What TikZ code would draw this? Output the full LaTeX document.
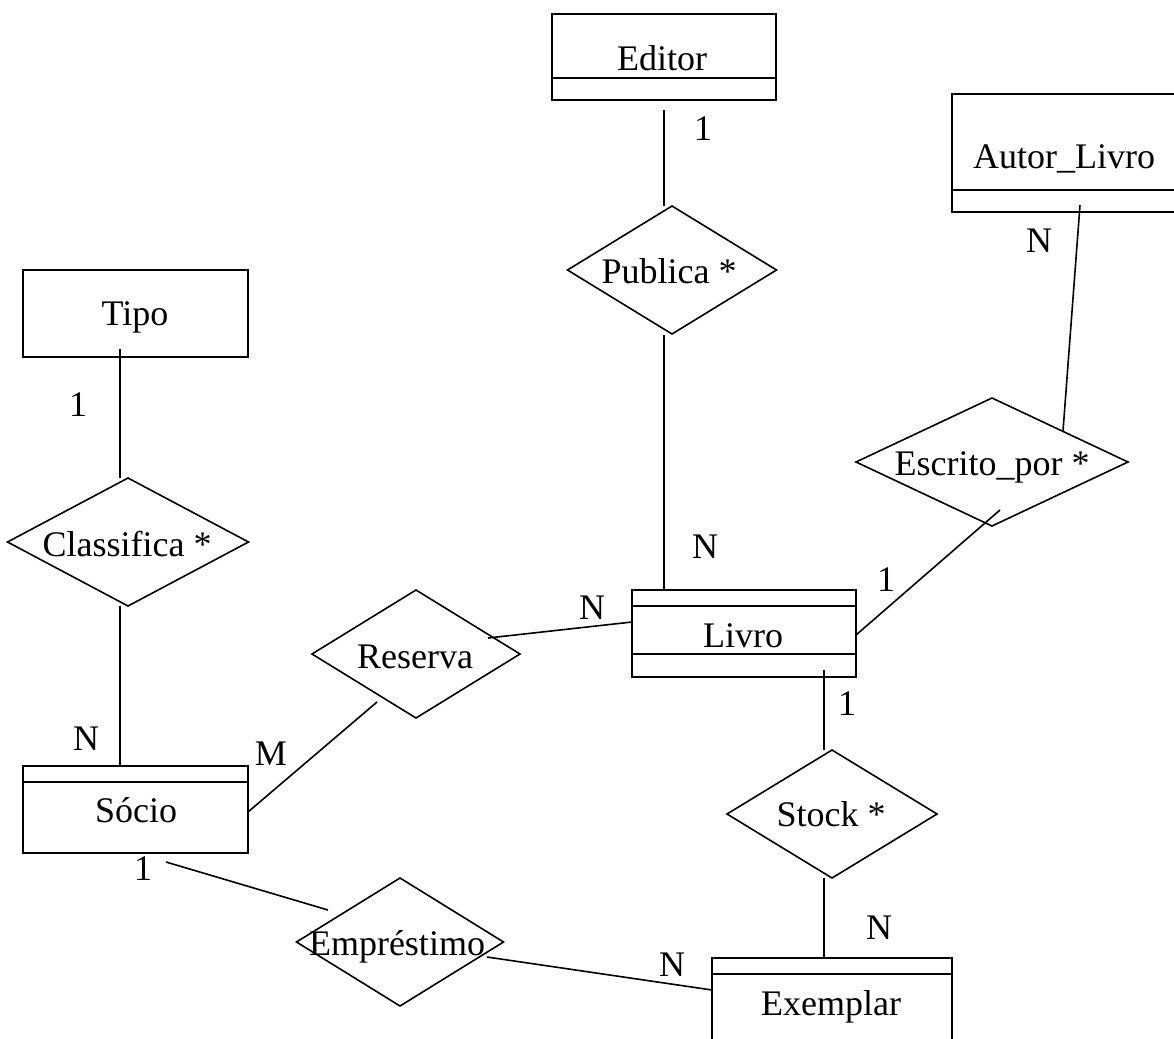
\documentclass[tikz,border=0pt]{standalone}
\usepackage{fontspec}
\setmainfont{Liberation Serif}
\usetikzlibrary{shapes.geometric}
\tikzset{
  entity/.style={draw, rectangle, line width=1.8pt, inner sep=0pt, outer sep=0pt},
  rel/.style={draw, diamond, line width=1.6pt, inner sep=0pt, outer sep=0pt},
  txt/.style={anchor=base, inner sep=0pt, font=\fontsize{36}{40}\selectfont},
  conn/.style={line width=1.6pt},
  sep/.style={line width=1.6pt}
}
\begin{document}
\begin{tikzpicture}[x=1pt,y=-1pt]
\useasboundingbox (0,0) rectangle (1174,1038);
\clip (0,0) rectangle (1174,1038);
% entities
\node[entity, minimum width=224pt, minimum height=86pt] (editor) at (664,57) {};
\node[entity, minimum width=238pt, minimum height=118pt] (autor) at (1071,153) {};
\node[entity, minimum width=225pt, minimum height=87pt] (tipo) at (135.5,313.5) {};
\node[entity, minimum width=225pt, minimum height=87pt] (socio) at (135.5,809.5) {};
\node[entity, minimum width=224pt, minimum height=87pt] (livro) at (744,633.5) {};
\node[entity, minimum width=240pt, minimum height=102pt] (exemplar) at (832,1009) {};
% separators
\draw[sep] ([yshift=22pt]editor.south west) -- ([yshift=22pt]editor.south east);
\draw[sep] ([yshift=22pt]autor.south west) -- ([yshift=22pt]autor.south east);
\draw[sep] ([yshift=-16pt]socio.north west) -- ([yshift=-16pt]socio.north east);
\draw[sep] ([yshift=-16pt]livro.north west) -- ([yshift=-16pt]livro.north east);
\draw[sep] ([yshift=23pt]livro.south west) -- ([yshift=23pt]livro.south east);
\draw[sep] ([yshift=-16pt]exemplar.north west) -- ([yshift=-16pt]exemplar.north east);
% relationships
\node[rel, minimum width=209pt, minimum height=128pt] (publica) at (672,270) {};
\node[rel, minimum width=272pt, minimum height=128pt] (escrito) at (992,462) {};
\node[rel, minimum width=241pt, minimum height=128pt] (classifica) at (128,542) {};
\node[rel, minimum width=208pt, minimum height=128pt] (reserva) at (416,654) {};
\node[rel, minimum width=210pt, minimum height=128pt] (stock) at (832,814) {};
\node[rel, minimum width=207pt, minimum height=128pt] (emprestimo) at (400,942) {};
% texts
\node[txt] (teditor) at (662,71) {Editor};
\node[txt] (tautor) at (1064,168) {Autor\_Livro};
\node[txt] (ttipo) at (135,325) {Tipo};
\node[txt] (tsocio) at (136,822) {Sócio};
\node[txt] (tlivro) at (743,647) {Livro};
\node[txt] (texemplar) at (831,1015) {Exemplar};
\node[txt] (tpublica) at (669,283) {Publica *};
\node[txt] (tescrito) at (992,475) {Escrito\_por *};
\node[txt] (tclassifica) at (127,556) {Classifica *};
\node[txt] (treserva) at (415,668) {Reserva};
\node[txt] (tstock) at (831,826) {Stock *};
\node[txt] (templ) at (397,955) {Empréstimo};
% connector end points
\coordinate (c1a) at (664,110); \coordinate (c1b) at (664,206);
\coordinate (c2a) at (664,335); \coordinate (c2b) at (664,590);
\coordinate (c3a) at (1080,205); \coordinate (c3b) at (1063,431);
\coordinate (c4a) at (1000,510); \coordinate (c4b) at (856,635);
\coordinate (c5a) at (120,349); \coordinate (c5b) at (120,478);
\coordinate (c6a) at (120,606); \coordinate (c6b) at (120,766);
\coordinate (c7a) at (488,638); \coordinate (c7b) at (632,622);
\coordinate (c8a) at (377,702); \coordinate (c8b) at (248,812);
\coordinate (c9a) at (166,862); \coordinate (c9b) at (328,910);
\coordinate (c10a) at (487,957); \coordinate (c10b) at (712,990);
\coordinate (c11a) at (824,670); \coordinate (c11b) at (824,750);
\coordinate (c12a) at (824,878); \coordinate (c12b) at (824,958);
% connectors
\draw[conn] (c1a) -- (c1b);
\draw[conn] (c2a) -- (c2b);
\draw[conn] (c3a) -- (c3b);
\draw[conn] (c4a) -- (c4b);
\draw[conn] (c5a) -- (c5b);
\draw[conn] (c6a) -- (c6b);
\draw[conn] (c7a) -- (c7b);
\draw[conn] (c8a) -- (c8b);
\draw[conn] (c9a) -- (c9b);
\draw[conn] (c10a) -- (c10b);
\draw[conn] (c11a) -- (c11b);
\draw[conn] (c12a) -- (c12b);
% cardinalities
\node[txt] (k1) at (703,140) {1};
\node[txt] (k2) at (1039,252) {N};
\node[txt] (k3) at (78,416) {1};
\node[txt] (k4) at (86,750) {N};
\node[txt] (k5) at (271,765) {M};
\node[txt] (k6) at (705,558) {N};
\node[txt] (k7) at (886,591) {1};
\node[txt] (k8) at (592,619) {N};
\node[txt] (k9) at (847,715) {1};
\node[txt] (k10) at (879,939) {N};
\node[txt] (k11) at (143,880) {1};
\node[txt] (k12) at (672,976) {N};
\end{tikzpicture}
\end{document}
